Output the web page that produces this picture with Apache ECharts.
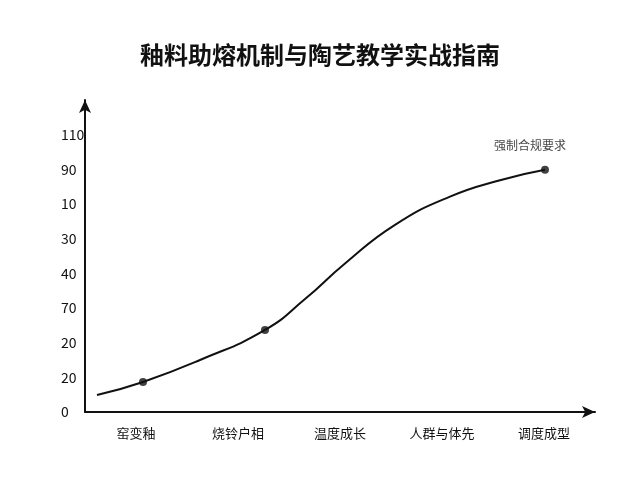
<!DOCTYPE html>
<html><head><meta charset="utf-8">
<script src="https://cdn.jsdelivr.net/npm/echarts@6/dist/echarts.min.js"></script>
<style>html,body{margin:0;background:#fff}#c{width:640px;height:480px}</style></head>
<body><div id="c"></div>
<script>
const categories = ['窑变釉','烧铃户相','温度成长','人群与体先','调度成型'];
const yTickLabels = ['0','20','20','70','40','30','10','90','110',''];
const curveX = [12,58,115,180,220,260,310,365,415,460];
const curveY = [5.7,10.1,17.5,27.6,38,50,63,72.5,78,81.5];
const markerIdx = [1,3,9];
const noteText = '强制合规要求';

const font = '"Noto Sans CJK SC", sans-serif';
const chart = echarts.init(document.getElementById('c'));
const line = curveX.map((x,i)=>[x,curveY[i]]);
chart.setOption({
  animation:false,
  title:{text:'釉料助熔机制与陶艺教学实战指南',left:'center',top:38,textStyle:{fontFamily:font,fontSize:24,fontWeight:'bold',color:'#111'}},
  grid:{left:85,right:45,top:100,bottom:68},
  xAxis:[
    {type:'category',data:categories,boundaryGap:true,axisLine:{lineStyle:{color:'#111',width:2},symbol:['none','arrow'],symbolSize:[9,13]},axisTick:{show:false},axisLabel:{fontFamily:font,fontSize:13,color:'#111',margin:15}},
    {type:'value',min:0,max:510,show:false}
  ],
  yAxis:[
    {type:'category',data:yTickLabels,boundaryGap:false,axisLine:{lineStyle:{color:'#111',width:2},symbol:['none','arrow'],symbolSize:[9,13]},axisTick:{show:false},axisLabel:{fontFamily:font,fontSize:14,color:'#111',margin:24,align:'left'},splitLine:{show:false}},
    {type:'value',min:0,max:105,show:false}
  ],
  series:[
    {type:'line',xAxisIndex:1,yAxisIndex:1,data:line,smooth:0.5,showSymbol:false,lineStyle:{color:'#111',width:2},z:2},
    {type:'scatter',xAxisIndex:1,yAxisIndex:1,data:markerIdx.map(i=>line[i]),symbolSize:8,itemStyle:{color:'#111'},z:3,
     label:{show:true,formatter:p=>p.dataIndex===2?noteText:'',position:'top',distance:14,offset:[-15,0],fontFamily:font,fontSize:12,color:'#111'}}
  ]
});
</script></body></html>
